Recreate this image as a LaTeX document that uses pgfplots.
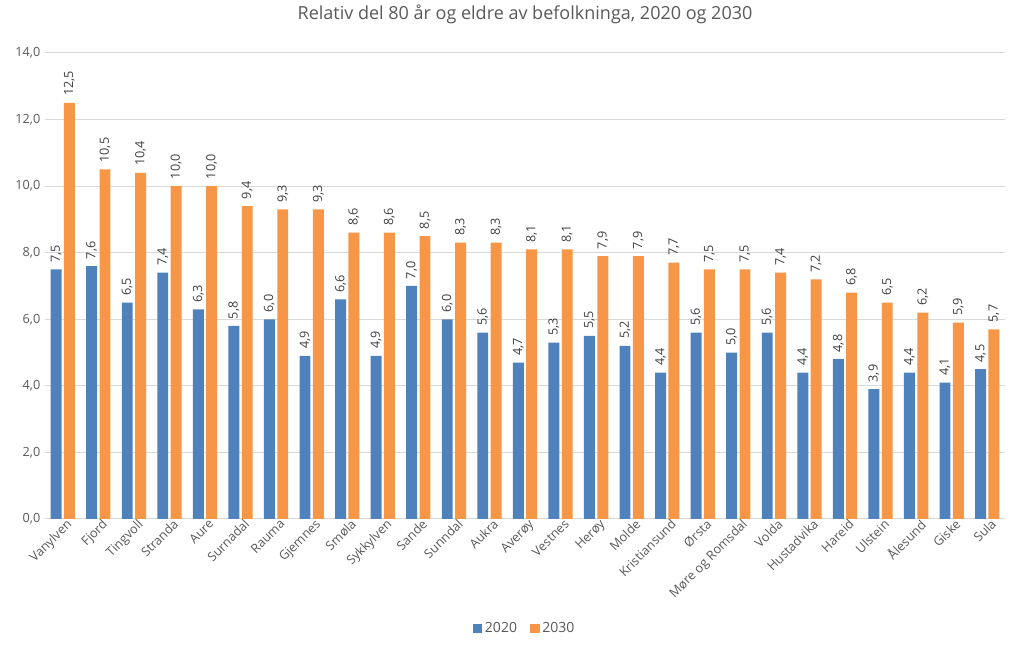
\documentclass[border=0pt]{standalone}
\usepackage{pgfplots}
\pgfplotsset{compat=1.18}
\usepackage{pgfplotstable}
\usepackage{fontspec}
\setmainfont{Open Sans}
\definecolor{cblue}{HTML}{4F81BD}
\definecolor{corange}{HTML}{F79646}
\definecolor{txt}{HTML}{595959}
\definecolor{gridc}{HTML}{D9D9D9}
\pgfplotstableread{
x a b
0 7.5 12.5
1 7.6 10.5
2 6.5 10.4
3 7.4 10.0
4 6.3 10.0
5 5.8 9.4
6 6.0 9.3
7 4.9 9.3
8 6.6 8.6
9 4.9 8.6
10 7.0 8.5
11 6.0 8.3
12 5.6 8.3
13 4.7 8.1
14 5.3 8.1
15 5.5 7.9
16 5.2 7.9
17 4.4 7.7
18 5.6 7.5
19 5.0 7.5
20 5.6 7.4
21 4.4 7.2
22 4.8 6.8
23 3.9 6.5
24 4.4 6.2
25 4.1 5.9
26 4.5 5.7
}\data
\begin{document}
\begin{tikzpicture}
\useasboundingbox (-33.75pt,-99.75pt) rectangle (734.25pt,389.25pt);
\begin{axis}[
  at={(0pt,0pt)}, anchor=south west,
  scale only axis,
  width=720pt, height=349.5pt,
  xmin=-0.5, xmax=26.5,
  ymin=0, ymax=14,
  ytick={0,2,...,14},
  xtick=data,
  xticklabels={Vanylven,Fjord,Tingvoll,Stranda,Aure,Surnadal,Rauma,Gjemnes,Smøla,Sykkylven,Sande,Sunndal,Aukra,Averøy,Vestnes,Herøy,Molde,Kristiansund,Ørsta,Møre og Romsdal,Volda,Hustadvika,Hareid,Ulstein,Ålesund,Giske,Sula},
  x tick label style={rotate=45, anchor=north east, font=\fontsize{9.5}{11}\selectfont, text=txt, inner sep=1pt, xshift=3pt},
  y tick label style={font=\fontsize{9.5}{11}\selectfont, text=txt},
  /pgf/number format/.cd, fixed, fixed zerofill, precision=1, use comma, assume math mode=true,
  /pgfplots/.cd,
  ymajorgrids, xmajorgrids=false,
  grid style={draw=gridc, line width=0.75pt},
  axis line style={draw=none},
  axis x line*=bottom,
  axis y line*=left,
  x axis line style={draw=gridc, line width=0.75pt},
  major tick length=0pt,
  tick style={draw=none},
  ybar, bar width=8.2pt,
  nodes near coords,
  every node near coord/.append style={rotate=90, anchor=west, font=\fontsize{9.5}{11}\selectfont, text=black!75, inner sep=0pt, xshift=5pt},
  title={Relativ del 80 år og eldre av befolkninga, 2020 og 2030},
  title style={font=\fontsize{13.5}{15}\selectfont, text=txt, at={(0.5,1)}, anchor=center, yshift=23pt},
  legend style={at={(0.5,-0.235)}, anchor=center, draw=none, legend columns=2, font=\fontsize{10.5}{12}\selectfont, text=txt, /tikz/every even column/.append style={column sep=8pt}},
  legend image code/.code={\fill[#1] (0pt,-3.5pt) rectangle (7pt,3.5pt);},
]
\addplot[fill=cblue, draw=none, bar shift=-5pt] table[x=x,y=a] {\data};
\addplot[fill=corange, draw=none, bar shift=5pt] table[x=x,y=b] {\data};
\legend{2020,2030}
\end{axis}
\end{tikzpicture}
\end{document}
